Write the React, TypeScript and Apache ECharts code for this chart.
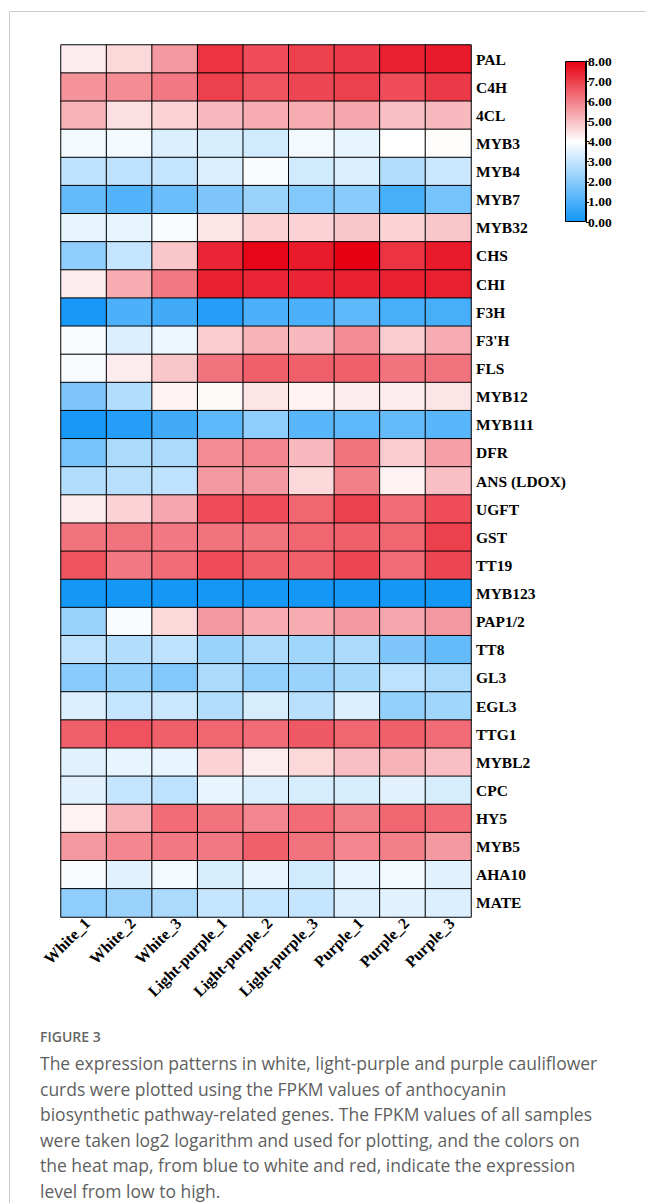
import React, { useEffect, useRef } from "react";
import * as echarts from "echarts";

const samples = [
  "White_1", "White_2", "White_3",
  "Light-purple_1", "Light-purple_2", "Light-purple_3",
  "Purple_1", "Purple_2", "Purple_3",
];

const genes = [
  "PAL", "C4H", "4CL", "MYB3", "MYB4", "MYB7", "MYB32", "CHS", "CHI", "F3H",
  "F3'H", "FLS", "MYB12", "MYB111", "DFR", "ANS (LDOX)", "UGFT", "GST", "TT19",
  "MYB123", "PAP1/2", "TT8", "GL3", "EGL3", "TTG1", "MYBL2", "CPC", "HY5",
  "MYB5", "AHA10", "MATE",
];

// log2(FPKM) values, one row per gene, one column per sample
const values: number[][] = [
  [4.3, 4.6, 5.6, 7.2, 6.8, 7.0, 7.1, 7.5, 7.6],
  [5.7, 5.8, 6.1, 7.0, 6.7, 6.9, 7.0, 6.8, 7.1],
  [5.2, 4.5, 4.7, 5.1, 5.3, 5.3, 5.4, 5.0, 5.1],
  [3.8, 3.8, 3.4, 3.3, 3.2, 3.8, 3.6, 4.0, 4.05],
  [2.9, 2.9, 3.0, 3.4, 3.9, 3.2, 3.4, 2.7, 3.1],
  [1.4, 1.1, 1.5, 1.8, 2.3, 1.9, 2.0, 0.9, 1.7],
  [3.6, 3.6, 3.9, 4.4, 4.7, 4.7, 4.9, 4.7, 4.9],
  [2.1, 3.0, 4.9, 7.4, 7.9, 7.6, 8.0, 7.2, 7.6],
  [4.3, 5.3, 6.1, 7.5, 7.4, 7.4, 7.5, 7.5, 7.5],
  [0.1, 1.0, 0.8, 0.3, 1.0, 1.0, 1.3, 0.9, 0.9],
  [3.9, 3.4, 3.7, 4.8, 5.2, 5.1, 5.8, 4.8, 5.3],
  [3.9, 4.3, 4.9, 6.2, 6.5, 6.5, 6.5, 6.2, 6.2],
  [1.8, 2.7, 4.2, 4.1, 4.4, 4.2, 4.3, 4.3, 4.4],
  [0.1, 0.3, 0.8, 1.3, 2.1, 1.2, 1.3, 1.4, 1.2],
  [1.7, 2.6, 2.6, 5.8, 5.9, 5.1, 6.2, 4.8, 5.5],
  [2.7, 2.8, 2.9, 5.6, 5.6, 4.6, 6.0, 4.2, 5.0],
  [4.3, 4.7, 5.4, 6.8, 6.8, 6.4, 7.0, 6.3, 6.8],
  [6.2, 6.2, 6.1, 6.2, 6.2, 6.4, 6.5, 6.4, 7.0],
  [6.7, 6.1, 6.3, 6.8, 6.5, 6.5, 6.9, 6.3, 6.9],
  [0.05, 0.05, 0.05, 0.05, 0.05, 0.05, 0.05, 0.05, 0.05],
  [2.3, 3.9, 4.6, 5.6, 5.3, 5.3, 5.6, 5.4, 5.6],
  [2.9, 2.7, 2.9, 2.3, 2.6, 2.4, 2.6, 1.8, 1.4],
  [2.0, 2.2, 1.9, 2.6, 2.2, 2.3, 2.5, 2.9, 2.6],
  [3.4, 3.0, 3.1, 2.7, 3.3, 2.8, 3.4, 2.2, 2.4],
  [6.5, 6.7, 6.5, 6.4, 6.3, 6.6, 6.4, 6.5, 6.3],
  [3.5, 3.6, 3.6, 4.7, 4.3, 4.6, 5.0, 5.2, 5.0],
  [3.5, 3.0, 2.9, 3.6, 3.4, 3.3, 3.3, 3.5, 3.3],
  [4.2, 5.2, 6.3, 6.2, 5.9, 6.3, 6.0, 6.4, 6.3],
  [5.6, 5.9, 6.1, 6.1, 6.5, 6.2, 5.9, 6.0, 5.6],
  [3.9, 3.5, 3.8, 3.3, 3.6, 3.2, 3.6, 3.8, 3.5],
  [2.1, 2.3, 2.6, 3.0, 3.0, 3.0, 3.4, 3.5, 3.4],
];

const scaleMin = 0;
const scaleMax = 8;
const scaleColors = ["#1296F8", "#FFFFFF", "#E60012"];

const captionTitle = "FIGURE 3";
const captionLines = [
  "The expression patterns in white, light-purple and purple cauliflower",
  "curds were plotted using the FPKM values of anthocyanin",
  "biosynthetic pathway-related genes. The FPKM values of all samples",
  "were taken log2 logarithm and used for plotting, and the colors on",
  "the heat map, from blue to white and red, indicate the expression",
  "level from low to high.",
];

const serif = "'Liberation Serif', 'Times New Roman', serif";
const sans = "'Open Sans', 'Noto Sans', sans-serif";

export default function App() {
  const ref = useRef<HTMLDivElement>(null);

  useEffect(() => {
    if (!ref.current) return;
    const chart = echarts.init(ref.current, null, { renderer: "svg" });

    const heatData: [number, number, number][] = [];
    values.forEach((row, i) => {
      row.forEach((v, j) => heatData.push([j, i, v]));
    });

    const graphics: any[] = [
      {
        type: "line",
        shape: { x1: 9.5, y1: 11.5, x2: 646, y2: 11.5 },
        style: { stroke: "#cccccc", lineWidth: 1 },
        silent: true,
      },
      {
        type: "line",
        shape: { x1: 9.5, y1: 11.5, x2: 9.5, y2: 1203 },
        style: { stroke: "#cccccc", lineWidth: 1 },
        silent: true,
      },
      {
        type: "text",
        left: 40,
        top: 1029,
        style: {
          text: captionTitle,
          fill: "#666666",
          font: `600 14px ${sans}`,
        },
        silent: true,
      },
    ];
    captionLines.forEach((line, i) => {
      graphics.push({
        type: "text",
        left: 40,
        top: 1054 + i * 25.6,
        style: {
          text: line,
          fill: "#5f5f5f",
          font: `17.5px ${sans}`,
        },
        silent: true,
      });
    });

    const gradientStops = scaleColors
      .slice()
      .reverse()
      .map((c, i, arr) => ({ offset: i / (arr.length - 1), color: c }));

    chart.setOption({
      animation: false,
      backgroundColor: "#ffffff",
      grid: [
        { left: 61, top: 45, width: 410, height: 872 },
        { left: 565, top: 61, width: 21, height: 161 },
      ],
      xAxis: [
        {
          type: "category",
          gridIndex: 0,
          data: samples,
          position: "bottom",
          axisLine: { show: false },
          axisTick: { show: false },
          splitLine: { show: false },
          axisLabel: {
            rotate: 45,
            margin: 7,
            interval: 0,
            padding: [0, -5, 0, 0],
            color: "#000",
            fontFamily: serif,
            fontWeight: "bold",
            fontSize: 16,
          },
        },
        {
          type: "category",
          gridIndex: 1,
          data: ["scale"],
          show: false,
        },
      ],
      yAxis: [
        {
          type: "category",
          gridIndex: 0,
          data: genes,
          inverse: true,
          position: "right",
          axisLine: { show: false },
          axisTick: { show: false },
          splitLine: { show: false },
          axisLabel: {
            margin: 5,
            interval: 0,
            color: "#000",
            fontFamily: serif,
            fontWeight: "bold",
            fontSize: 15.5,
          },
        },
        {
          type: "value",
          gridIndex: 1,
          min: scaleMin,
          max: scaleMax,
          interval: 1,
          position: "right",
          axisLine: { show: true, lineStyle: { color: "#000", width: 1 } },
          axisTick: { show: true, length: 3, lineStyle: { color: "#000" } },
          splitLine: { show: false },
          axisLabel: {
            margin: 2,
            color: "#000",
            fontFamily: serif,
            fontWeight: "bold",
            fontSize: 13.5,
            formatter: (v: number) => v.toFixed(2),
          },
        },
      ],
      visualMap: {
        show: false,
        type: "continuous",
        min: scaleMin,
        max: scaleMax,
        seriesIndex: 0,
        inRange: { color: scaleColors },
      },
      series: [
        {
          type: "heatmap",
          xAxisIndex: 0,
          yAxisIndex: 0,
          data: heatData,
          itemStyle: { borderColor: "#000", borderWidth: 1 },
          emphasis: { disabled: true },
        },
        {
          type: "bar",
          xAxisIndex: 1,
          yAxisIndex: 1,
          data: [scaleMax],
          barWidth: "100%",
          silent: true,
          itemStyle: {
            color: new echarts.graphic.LinearGradient(0, 0, 0, 1, gradientStops),
            borderColor: "#000",
            borderWidth: 1,
          },
        },
      ],
      graphic: graphics,
    });

    return () => chart.dispose();
  }, []);

  return (
    <div
      ref={ref}
      style={{ position: "absolute", left: 0, top: 0, width: 646, height: 1203 }}
    />
  );
}
